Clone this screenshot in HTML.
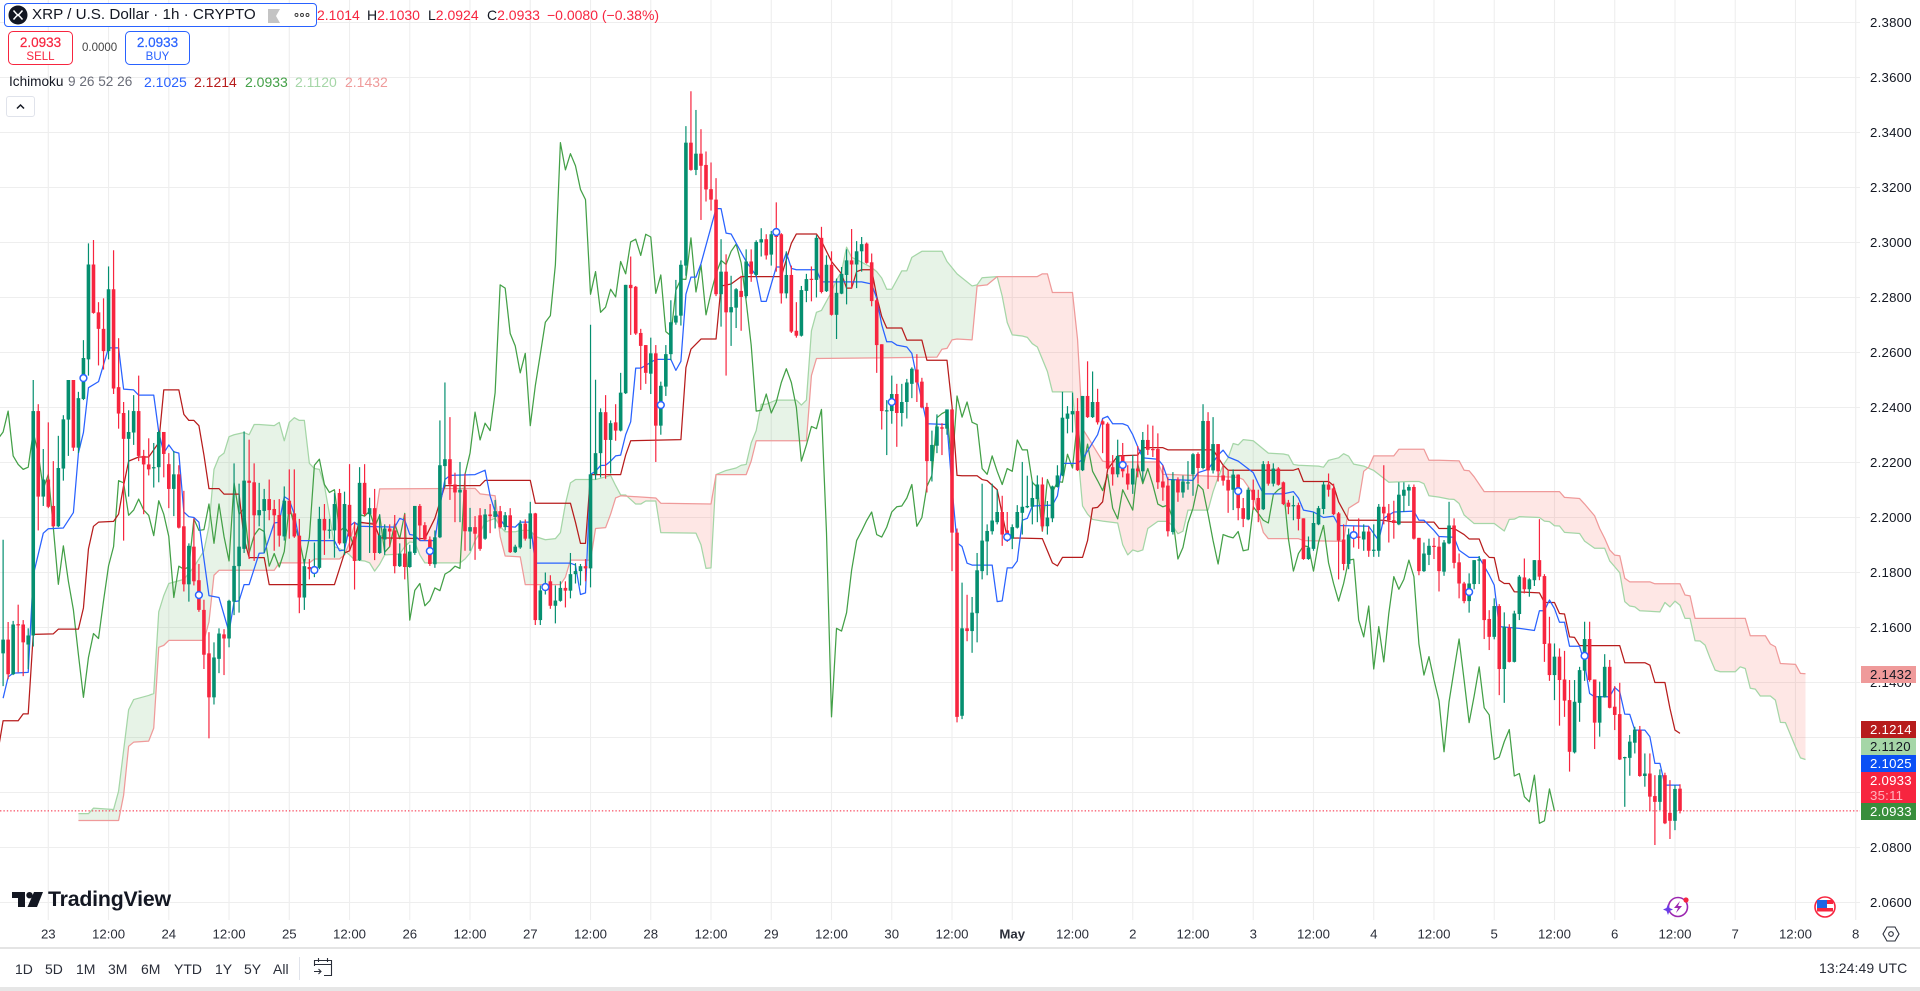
<!DOCTYPE html>
<html lang="en">
<head>
<meta charset="utf-8">
<title>XRP / U.S. Dollar 1h Ichimoku chart</title>
<style>
html,body{margin:0;padding:0;background:#fff;width:1920px;height:991px;overflow:hidden;font-family:"Liberation Sans",sans-serif;color:#131722}
#stage{position:relative;width:1920px;height:991px;overflow:hidden}
#chart{position:absolute;left:0;top:0}
.t{position:absolute;white-space:nowrap;line-height:1}
.box{position:absolute;box-sizing:border-box;background:#fff}
.range{position:absolute;top:962px;font-size:14px;line-height:14px;color:#2a2e39}
.badge{position:absolute;left:1861px;width:55px;box-sizing:border-box;padding-left:9px;font-size:13.2px;letter-spacing:.25px;line-height:17px}
</style>
</head>
<body>
<div id="stage">
<svg id="chart" width="1920" height="991" viewBox="0 0 1920 991" xmlns="http://www.w3.org/2000/svg"></svg>

<div class="box" style="left:4px;top:3px;width:313px;height:24px;border:1.3px solid #2962ff;border-radius:4px"></div>
<svg style="position:absolute;left:8px;top:5px" width="20" height="20" viewBox="0 0 20 20"><circle cx="10" cy="10" r="9.5" fill="#131722"/><path d="M5.5 5.5L8.6 9a2 2 0 0 0 2.8 0l3.1-3.5M5.5 14.5L8.6 11a2 2 0 0 1 2.8 0l3.1 3.5" fill="none" stroke="#fff" stroke-width="1.5"/></svg>
<div class="t" style="left:32px;top:7px;font-size:15.2px;color:#131722">XRP / U.S. Dollar · 1h · CRYPTO</div>
<svg style="position:absolute;left:267px;top:9px" width="14" height="14" viewBox="0 0 14 14"><path d="M1 0H13L9 7L13 14H1Z" fill="#c4c4c4"/></svg>
<svg style="position:absolute;left:294px;top:12px" width="16" height="6" viewBox="0 0 16 6"><circle cx="2.5" cy="3" r="1.5" fill="none" stroke="#333" stroke-width=".9"/><circle cx="8" cy="3" r="1.5" fill="none" stroke="#333" stroke-width=".9"/><circle cx="13.5" cy="3" r="1.5" fill="none" stroke="#333" stroke-width=".9"/></svg>

<div class="t" style="left:317px;top:8px;font-size:14px;color:#f7253f">2.1014</div>
<div class="t" style="left:367px;top:8px;font-size:14px;color:#f7253f"><span style="color:#131722">H</span>2.1030</div>
<div class="t" style="left:428px;top:8px;font-size:14px;color:#f7253f"><span style="color:#131722">L</span>2.0924</div>
<div class="t" style="left:487px;top:8px;font-size:14px;color:#f7253f"><span style="color:#131722">C</span>2.0933</div>
<div class="t" style="left:547px;top:8px;font-size:14px;color:#f7253f">−0.0080 (−0.38%)</div>

<div class="box" style="left:8px;top:31px;width:65px;height:34px;border:1.2px solid #f7253f;border-radius:5px;text-align:center;color:#f7253f">
<div style="font-size:13.5px;line-height:14px;margin-top:4px;-webkit-text-stroke:.2px #f7253f">2.0933</div><div style="font-size:11.5px;line-height:13px;margin-top:1px">SELL</div></div>
<div class="t" style="left:82px;top:43px;font-size:11.5px;color:#444">0.0000</div>
<div class="box" style="left:125px;top:31px;width:65px;height:34px;border:1.2px solid #2962ff;border-radius:5px;text-align:center;color:#2962ff">
<div style="font-size:13.5px;line-height:14px;margin-top:4px;-webkit-text-stroke:.2px #2962ff">2.0933</div><div style="font-size:11.5px;line-height:13px;margin-top:1px">BUY</div></div>

<div class="t" style="left:9px;top:75px;font-size:13.6px;color:#131722">Ichimoku</div>
<div class="t" style="left:68px;top:75px;font-size:13.6px;color:#6a6d78">9 26 52 26</div>
<div class="t" style="left:144px;top:75px;font-size:14px;color:#2962ff">2.1025</div>
<div class="t" style="left:194px;top:75px;font-size:14px;color:#b71c1c">2.1214</div>
<div class="t" style="left:245px;top:75px;font-size:14px;color:#43a047">2.0933</div>
<div class="t" style="left:295px;top:75px;font-size:14px;color:#a5d6a7">2.1120</div>
<div class="t" style="left:345px;top:75px;font-size:14px;color:#ef9a9a">2.1432</div>
<div class="box" style="left:6px;top:96px;width:29px;height:21px;border:1px solid #e0e3eb;border-radius:3px">
<svg width="27" height="19" viewBox="0 0 27 19"><path d="M10 11.5L13.5 8L17 11.5" fill="none" stroke="#131722" stroke-width="1.5"/></svg></div>

<svg style="position:absolute;left:12px;top:892px" width="31" height="16" viewBox="0 0 31 16"><path d="M0 0H13V15H6V6H0Z" fill="#131722"/><circle cx="17.5" cy="3.2" r="3.2" fill="#131722"/><path d="M22 0H31L25 15H15.5Z" fill="#131722"/></svg>
<div class="t" style="left:48px;top:889px;font-size:21.3px;font-weight:700;letter-spacing:-.2px;color:#131722">TradingView</div>

<svg style="position:absolute;left:1663px;top:895px" width="28" height="24" viewBox="0 0 28 24"><circle cx="15" cy="12" r="9.5" fill="#fff" stroke="#9c27b0" stroke-width="1.6"/><path d="M17 6L11 13H15L13 18L19 11H15Z" fill="#9c27b0"/><path d="M5 9L6.5 13L10 14.5L6.5 16L5 20L3.5 16L0 14.5L3.5 13Z" fill="#6a3de8"/><circle cx="23" cy="5" r="2.6" fill="#f7253f"/></svg>
<svg style="position:absolute;left:1814px;top:896px" width="22" height="22" viewBox="0 0 22 22"><circle cx="11" cy="11" r="10" fill="#fff" stroke="#f7253f" stroke-width="1.6"/><rect x="3" y="4" width="16" height="4" fill="#f7253f"/><rect x="3" y="12" width="16" height="3.5" fill="#f7253f"/><rect x="3" y="4" width="10" height="8" fill="#1e66e6"/></svg>
<svg style="position:absolute;left:1882px;top:926px" width="18" height="16" viewBox="0 0 18 16"><path d="M5 1H13L17 8L13 15H5L1 8Z" fill="none" stroke="#2a2e39" stroke-width="1.1"/><circle cx="9" cy="8" r="2.3" fill="none" stroke="#2a2e39" stroke-width="1.1"/></svg>

<div class="box" style="left:0;top:947px;width:1920px;height:2px;background:#e4e4e4"></div>
<div class="box" style="left:0;top:987px;width:1920px;height:4px;background:#e6e6e6"></div>
<div class="range" style="left:15px">1D</div>
<div class="range" style="left:45px">5D</div>
<div class="range" style="left:76px">1M</div>
<div class="range" style="left:108px">3M</div>
<div class="range" style="left:141px">6M</div>
<div class="range" style="left:174px">YTD</div>
<div class="range" style="left:215px">1Y</div>
<div class="range" style="left:244px">5Y</div>
<div class="range" style="left:273px">All</div>
<div class="box" style="left:299px;top:957px;width:1px;height:23px;background:#e0e3eb"></div>
<svg style="position:absolute;left:313px;top:957px" width="20" height="20" viewBox="0 0 20 20"><path d="M1.5 9V3.5H18.5V18.5H11M1.5 7.5H18.5M5.5 1V5M14.5 1V5M1 14.5H8M5.5 12L8 14.5L5.5 17" fill="none" stroke="#2a2e39" stroke-width="1.1"/></svg>
<div class="t" style="left:1819px;top:961px;font-size:14px;letter-spacing:.1px;color:#2a2e39">13:24:49 UTC</div>

<div class="badge" style="top:666px;height:17px;background:#ef9a9a;color:#131722">2.1432</div>
<div class="badge" style="top:721px;height:17px;background:#b71c1c;color:#fff">2.1214</div>
<div class="badge" style="top:738px;height:17px;background:#a5d6a7;color:#131722">2.1120</div>
<div class="badge" style="top:755px;height:17px;background:#0a50f5;color:#fff">2.1025</div>
<div class="badge" style="top:772px;height:31px;background:#f7253f;color:#fff;line-height:15px;padding-top:1px">2.0933<br><span style="color:#ffb3bd">35:11</span></div>
<div class="badge" style="top:803px;height:17px;background:#388e3c;color:#fff">2.0933</div>
</div>

<script>
const firstBar = -9;
const opens = [
2.1506,2.1556,2.1430,2.1612,2.1611,2.1538,2.1571,2.2387,2.2076,2.2138,
2.2042,2.1968,2.2178,2.2356,2.2500,2.2254,2.2431,2.2575,2.2920,2.2746,
2.2686,2.2605,2.2830,2.2474,2.2380,2.2286,2.2309,2.2387,2.2224,2.2193,
2.2180,2.2183,2.2311,2.2194,2.2104,2.2157,2.1968,2.1757,2.1894,2.1772,
2.1664,2.1506,2.1346,2.1486,2.1575,2.1560,2.1694,2.1823,2.1886,2.2134,
2.2128,2.2008,2.2024,2.2067,2.2031,2.2009,2.1931,2.2061,2.2015,2.1934,
2.1709,2.1820,2.1802,2.1817,2.1995,2.1953,2.1953,2.2089,2.1906,2.2046,
2.1931,2.1845,2.2126,2.2012,2.2034,2.1871,2.1920,2.1960,2.1953,2.1823,
2.1869,2.1820,2.1871,2.2042,2.1972,2.1920,2.1830,2.1928,2.2187,2.2212,
2.2120,2.2091,2.2101,2.1949,2.1965,
2.2008,2.1923,2.2011,2.2002,2.2023,2.1965,2.2008,2.1874,2.1891,2.1978,
2.1923,2.2015,2.1627,2.1738,2.1768,2.1679,2.1697,2.1744,2.1734,2.1794,
2.1805,2.1823,2.1815,2.2157,2.2234,2.2383,2.2282,2.2346,2.2316,2.2452,
2.2846,2.2839,2.2671,2.2627,2.2523,2.2597,2.2334,2.2476,2.2594,2.2709,
2.2734,2.2916,2.3363,2.3264,2.3323,2.3282,2.3194,2.3156,2.2812,2.2894,
2.2746,2.2763,2.2824,2.2805,2.2931,2.2882,2.3000,2.3012,2.2956,2.3042,
2.3030,2.2815,2.2882,2.2679,2.2661,2.2824,2.2868,2.2864,2.3017,2.2823,
2.2919,2.2737,2.2814,2.2882,2.2935,2.2920,2.2968,2.2996,2.2928,2.2790,
2.2630,2.2387,2.2387,2.2449,2.2380,2.2420,2.2486,2.2538,2.2494,2.2402,
2.2205,2.2261,2.2328,2.2323,2.2393,2.1945,
2.1279,2.1597,2.1587,2.1652,2.1805,2.1913,2.1950,2.1983,2.2020,2.1953,
2.1923,2.1963,2.2017,2.2037,2.2039,2.2067,2.2120,2.1968,2.1997,2.2111,
2.2153,2.2359,2.2375,2.2387,2.2172,2.2442,2.2365,2.2420,2.2350,2.2341,
2.2183,2.2157,2.2224,2.2160,2.2120,2.2178,2.2168,2.2282,2.2249,2.2249,
2.2131,2.2116,2.1947,2.2138,2.2091,2.2128,2.2157,2.2231,2.2180,2.2351,
2.2171,2.2267,2.2153,2.2137,2.2101,2.2156,2.2034,2.1993,2.2101,2.2071,
2.2030,2.2194,2.2123,2.2178,2.2128,2.2054,2.2042,2.2045,2.1997,2.1849,
2.1886,2.1975,2.2031,2.2120,2.2106,2.2015,2.1920,2.1831,2.1938,2.1931,
2.1920,2.1949,2.1880,2.1879,2.2039,2.2015,2.1990,2.1975,2.2079,2.2098,
2.2111,2.1926,2.1805,2.1864,2.1897,2.1894,
2.1803,2.1906,2.1971,2.1837,2.1760,2.1696,2.1758,2.1843,2.1848,2.1631,
2.1566,2.1678,2.1449,2.1600,2.1475,2.1649,2.1782,2.1739,2.1772,2.1845,
2.1787,2.1542,2.1427,2.1494,2.1411,2.1336,2.1146,2.1326,2.1443,2.1558,
2.1411,2.1254,2.1346,2.1457,2.1312,2.1285,2.1126,2.1126,2.1181,2.1227,
2.1060,2.1069,2.0987,2.0966,2.1063,2.0926,2.0897,2.1014];
const highs = [
2.1919,2.1620,2.1624,2.1683,2.1627,2.1597,2.2500,2.2412,2.2249,2.2346,
2.2205,2.2297,2.2372,2.2500,2.2500,2.2457,2.2645,2.2997,2.3009,2.2783,
2.2797,2.2913,2.2972,2.2652,2.2420,2.2390,2.2445,2.2516,2.2246,2.2288,
2.2271,2.2316,2.2311,2.2234,2.2242,2.2190,2.2097,2.1906,2.1997,2.1831,
2.1701,2.1583,2.1546,2.1597,2.1594,2.1701,2.2197,2.2123,2.2313,2.2283,
2.2197,2.2126,2.2104,2.2138,2.2064,2.2067,2.2113,2.2175,2.2175,2.1995,
2.1849,2.1849,2.1909,2.2039,2.2049,2.1995,2.2089,2.2104,2.2094,2.2194,
2.1983,2.2183,2.2194,2.2072,2.2104,2.2012,2.1975,2.1975,2.2009,2.1906,
2.2012,2.1901,2.2042,2.2049,2.1983,2.1931,2.1953,2.2353,2.2491,2.2365,
2.2163,2.2202,2.2160,2.2035,2.2005,
2.2034,2.2031,2.2049,2.2064,2.2042,2.2020,2.2034,2.1901,2.1990,2.1993,
2.2057,2.2017,2.1753,2.1800,2.1790,2.1753,2.1768,2.1768,2.1871,2.1834,
2.1831,2.1849,2.2701,2.2501,2.2397,2.2445,2.2353,2.2412,2.2526,2.2846,
2.2949,2.2842,2.2686,2.2627,2.2654,2.2627,2.2494,2.2627,2.2790,2.2864,
2.2935,2.3423,2.3550,2.3482,2.3412,2.3331,2.3291,2.3234,2.3012,2.2957,
2.2879,2.2834,2.2879,2.2975,2.2975,2.3008,2.3052,2.3030,2.3042,2.3146,
2.3034,2.2968,2.2916,2.2783,2.2842,2.2886,2.2913,2.3027,2.3057,2.2953,
2.2968,2.2869,2.2911,2.2975,2.3049,2.3005,2.3020,2.3000,2.2960,2.2797,
2.2630,2.2427,2.2516,2.2486,2.2486,2.2504,2.2546,2.2594,2.2508,2.2417,
2.2316,2.2375,2.2343,2.2393,2.2393,2.1960,
2.1763,2.1719,2.1711,2.1871,2.2123,2.1975,2.2123,2.2101,2.2079,2.2020,
2.1975,2.2045,2.2202,2.2152,2.2131,2.2153,2.2146,2.2060,2.2116,2.2190,
2.2457,2.2405,2.2454,2.2434,2.2442,2.2568,2.2531,2.2468,2.2357,2.2346,
2.2227,2.2283,2.2271,2.2190,2.2227,2.2260,2.2311,2.2338,2.2334,2.2306,
2.2190,2.2146,2.2165,2.2146,2.2153,2.2205,2.2234,2.2237,2.2412,2.2383,
2.2365,2.2267,2.2190,2.2175,2.2175,2.2157,2.2071,2.2109,2.2138,2.2101,
2.2205,2.2205,2.2197,2.2183,2.2131,2.2064,2.2079,2.2054,2.1997,2.1931,
2.2020,2.2042,2.2131,2.2160,2.2123,2.2020,2.1975,2.1960,2.1968,2.1997,
2.1975,2.1968,2.1975,2.2049,2.2190,2.2049,2.2061,2.2128,2.2128,2.2120,
2.2120,2.1926,2.1909,2.1923,2.1926,2.1931,
2.1918,2.2057,2.1997,2.1869,2.1766,2.1797,2.1845,2.1860,2.1848,2.1663,
2.1706,2.1685,2.1655,2.1612,2.1661,2.1791,2.1851,2.1779,2.1845,2.1994,
2.1794,2.1639,2.1542,2.1524,2.1515,2.1409,2.1409,2.1457,2.1621,2.1621,
2.1411,2.1403,2.1503,2.1482,2.1387,2.1399,2.1130,2.1209,2.1239,2.1242,
2.1142,2.1142,2.1063,2.1084,2.1072,2.1045,2.1027,2.1030];
const lows = [
2.1387,2.1412,2.1427,2.1437,2.1423,2.1449,2.1531,2.1953,2.2042,2.2034,
2.1965,2.1965,2.2134,2.2224,2.2242,2.2234,2.2427,2.2516,2.2741,2.2553,
2.2538,2.2575,2.2449,2.2323,2.1916,2.2076,2.2264,2.2205,2.2012,2.2153,
2.2109,2.2128,2.2146,2.2034,2.2005,2.1960,2.1731,2.1694,2.1753,2.1657,
2.1449,2.1197,2.1320,2.1434,2.1427,2.1528,2.1645,2.1654,2.1871,2.1849,
2.1842,2.1968,2.1871,2.1990,2.1879,2.1894,2.1916,2.1923,2.1926,2.1652,
2.1664,2.1775,2.1783,2.1812,2.1864,2.1923,2.1854,2.1901,2.1864,2.1879,
2.1738,2.1842,2.2005,2.1871,2.1845,2.1868,2.1864,2.1894,2.1797,2.1820,
2.1775,2.1817,2.1864,2.1916,2.1916,2.1824,2.1817,2.1925,2.2109,2.2064,
2.1983,2.1983,2.1879,2.1879,2.1846,
2.1879,2.1919,2.1943,2.1960,2.1960,2.1953,2.1871,2.1871,2.1886,2.1916,
2.1886,2.1609,2.1609,2.1720,2.1668,2.1615,2.1694,2.1673,2.1706,2.1760,
2.1753,2.1768,2.1746,2.2138,2.2146,2.2141,2.2160,2.2279,2.2313,2.2449,
2.2664,2.2664,2.2464,2.2486,2.2449,2.2202,2.2301,2.2442,2.2572,2.2701,
2.2698,2.2879,2.3261,2.3245,2.3082,2.3149,2.3116,2.2805,2.2694,2.2516,
2.2624,2.2689,2.2679,2.2797,2.2857,2.2876,2.2949,2.2938,2.2916,2.2894,
2.2778,2.2797,2.2671,2.2654,2.2658,2.2783,2.2786,2.2800,2.2815,2.2820,
2.2734,2.2649,2.2812,2.2775,2.2834,2.2834,2.2894,2.2923,2.2768,2.2526,
2.2320,2.2227,2.2341,2.2257,2.2331,2.2360,2.2434,2.2420,2.2397,2.2091,
2.2131,2.2234,2.2227,2.2301,2.1805,2.1255,
2.1267,2.1550,2.1508,2.1546,2.1775,2.1790,2.1938,2.1975,2.1897,2.1911,
2.1885,2.1960,2.1938,2.2034,2.1975,2.1983,2.1950,2.1938,2.1983,2.2109,
2.2150,2.2306,2.2309,2.2169,2.2169,2.2362,2.2362,2.2338,2.2234,2.2175,
2.2116,2.2146,2.2146,2.2101,2.2086,2.2146,2.2131,2.2227,2.2220,2.2104,
2.2061,2.1931,2.1938,2.2057,2.2072,2.2101,2.2079,2.2123,2.2175,2.2104,
2.2160,2.2131,2.2116,2.2017,2.2027,2.1990,2.1965,2.1990,2.2027,2.1983,
2.2027,2.2116,2.2113,2.2116,2.2045,2.2012,2.1990,2.1953,2.1846,2.1846,
2.1879,2.1972,2.2012,2.2076,2.2009,2.1775,2.1808,2.1812,2.1891,2.1886,
2.1879,2.1857,2.1857,2.1857,2.1975,2.1909,2.1923,2.1972,2.2020,2.2042,
2.1920,2.1790,2.1802,2.1827,2.1849,2.1731,
2.1788,2.1903,2.1815,2.1706,2.1688,2.1654,2.1739,2.1758,2.1558,2.1518,
2.1557,2.1354,2.1326,2.1473,2.1473,2.1627,2.1724,2.1712,2.1751,2.1772,
2.1475,2.1406,2.1336,2.1243,2.1275,2.1076,2.1142,2.1257,2.1406,2.1403,
2.1158,2.1203,2.1345,2.1306,2.1227,2.1118,2.0948,2.1061,2.1142,2.1057,
2.1021,2.0932,2.0809,2.0936,2.0885,2.0831,2.0863,2.0924];
const closes = [
2.1556,2.1430,2.1611,2.1609,2.1546,2.1571,2.2387,2.2076,2.2138,2.2039,
2.1968,2.2180,2.2357,2.2500,2.2254,2.2434,2.2580,2.2920,2.2744,2.2686,
2.2605,2.2830,2.2469,2.2378,2.2286,2.2311,2.2387,2.2224,2.2193,2.2175,
2.2183,2.2311,2.2231,2.2104,2.2157,2.1963,2.1757,2.1897,2.1768,2.1664,
2.1501,2.1346,2.1491,2.1578,2.1560,2.1697,2.1824,2.1894,2.2134,2.2126,
2.2008,2.2027,2.2067,2.2027,2.2008,2.1934,2.2061,2.2012,2.1931,2.1709,
2.1823,2.1812,2.1820,2.1995,2.1953,2.1956,2.2049,2.1906,2.2049,2.1931,
2.1842,2.2126,2.2012,2.2034,2.1871,2.1935,2.1960,2.1949,2.1823,2.1869,
2.1820,2.1876,2.2042,2.1971,2.1920,2.1831,2.1928,2.2190,2.2212,2.2120,
2.2091,2.2101,2.1950,2.1965,2.1941,
2.1886,2.2011,2.2005,2.2023,2.1965,2.2008,2.1874,2.1894,2.1978,2.1923,
2.2015,2.1627,2.1735,2.1760,2.1679,2.1698,2.1744,2.1734,2.1794,2.1805,
2.1823,2.1815,2.2157,2.2234,2.2383,2.2282,2.2343,2.2316,2.2454,2.2846,
2.2834,2.2669,2.2624,2.2526,2.2597,2.2334,2.2479,2.2594,2.2710,2.2734,
2.2919,2.3363,2.3264,2.3323,2.3279,2.3193,2.3156,2.2812,2.2894,2.2746,
2.2765,2.2830,2.2802,2.2931,2.2886,2.3002,2.3012,2.2953,2.3030,2.3020,
2.2815,2.2882,2.2676,2.2661,2.2827,2.2867,2.2866,2.3017,2.2820,2.2919,
2.2737,2.2817,2.2886,2.2935,2.2920,2.2968,2.2994,2.2926,2.2787,2.2627,
2.2387,2.2390,2.2449,2.2380,2.2420,2.2491,2.2541,2.2491,2.2400,2.2205,
2.2264,2.2331,2.2323,2.2393,2.1945,2.1275,
2.1597,2.1587,2.1654,2.1808,2.1916,2.1951,2.1989,2.2020,2.1938,2.1929,
2.1965,2.2020,2.2039,2.2042,2.2071,2.2120,2.1968,2.2000,2.2113,2.2153,
2.2363,2.2378,2.2387,2.2172,2.2442,2.2365,2.2420,2.2346,2.2338,2.2178,
2.2157,2.2224,2.2168,2.2120,2.2178,2.2168,2.2282,2.2246,2.2246,2.2128,
2.2109,2.1950,2.2138,2.2091,2.2131,2.2128,2.2230,2.2180,2.2351,2.2171,
2.2267,2.2168,2.2134,2.2098,2.2156,2.2034,2.1995,2.2101,2.2064,2.2027,
2.2194,2.2123,2.2178,2.2119,2.2049,2.2039,2.2045,2.1995,2.1849,2.1891,
2.1980,2.2034,2.2120,2.2101,2.2012,2.1916,2.1831,2.1938,2.1931,2.1926,
2.1949,2.1879,2.1883,2.2039,2.2015,2.1990,2.1980,2.2083,2.2101,2.2111,
2.1923,2.1805,2.1869,2.1897,2.1894,2.1805,
2.1909,2.1971,2.1835,2.1760,2.1696,2.1760,2.1845,2.1848,2.1627,2.1566,
2.1678,2.1449,2.1603,2.1475,2.1651,2.1785,2.1739,2.1775,2.1845,2.1785,
2.1540,2.1427,2.1494,2.1409,2.1334,2.1148,2.1330,2.1445,2.1558,2.1409,
2.1254,2.1351,2.1457,2.1308,2.1282,2.1120,2.1129,2.1185,2.1229,2.1060,
2.1069,2.0985,2.0966,2.1063,2.0888,2.0897,2.1013,2.0933];

const tenkanBars = [-9,-8,-7,-4,-3,-1,0,3,5,6,7,8,10,12,14,15,17,18,21,22,23,24,25,26,27,28,29,30,31,32,34,36,37,38,39,40,42,43,45,46,47,48,49,50,57,58,59,60,61,62,69,70,71,72,73,74,77,78,79,80,85,
87,88,89,91,93,94,96,97,104,105,106,107,108,109,110,111,112,113,114,115,116,117,118,119,121,124,125,126,127,128,129,130,133,134,135,136,139,141,142,143,145,146,147,148,149,153,154,162,164,165,166,167,168,169,171,172,173,175,179,180,181,
182,183,184,188,189,190,191,192,193,194,195,196,200,201,202,205,206,209,210,211,212,214,215,216,217,218,221,222,223,228,229,231,233,234,235,237,240,241,242,246,248,249,250,252,254,256,257,263,265,266,268,272,273,274,276,277,
280,281,283,285,287,288,289,293,296,297,298,299,300,301,302,303,305,306,307,308,311,312,313,314,315,316,318,319,320,321,322,325];
const tenkanPrices = [2.1343,2.1420,2.1434,2.1437,2.1790,2.1943,2.1959,2.1962,2.2018,2.2234,2.2309,2.2472,2.2494,2.2617,2.2617,2.2467,2.2464,2.2445,2.2445,2.2311,2.2234,2.2264,2.2239,2.2234,2.2020,2.2003,2.2000,2.1983,2.1849,2.1716,2.1709,2.1583,2.1694,2.1697,2.1756,2.1756,2.1870,2.1871,2.1980,2.1983,2.2076,2.2064,2.2012,2.1916,2.1916,2.1879,2.1882,2.1968,2.1983,2.1968,2.1965,2.1997,2.1990,2.1938,2.1935,2.1916,2.1916,2.2042,2.2138,2.2153,2.2156,
2.2172,2.2079,2.2020,2.1968,2.1965,2.1983,2.1983,2.1834,2.1834,2.1827,2.1720,2.1726,2.2157,2.2168,2.2189,2.2190,2.2205,2.2224,2.2227,2.2301,2.2348,2.2543,2.2543,2.2553,2.2575,2.2575,2.2535,2.2568,2.2812,2.2874,2.2874,2.2923,2.3123,2.3123,2.3034,2.3031,2.2931,2.2879,2.2786,2.2786,2.2911,2.2911,2.2963,2.2906,2.2901,2.2901,2.2857,2.2857,2.2849,2.2797,2.2701,2.2639,2.2639,2.2627,2.2620,2.2597,2.2508,2.2341,2.2338,2.2108,2.1908,
2.1894,2.1834,2.1827,2.1827,2.1694,2.1697,2.1817,2.1817,2.1842,2.1990,2.1997,2.2042,2.2045,2.2079,2.2197,2.2197,2.2212,2.2301,2.2360,2.2368,2.2341,2.2341,2.2334,2.2301,2.2257,2.2217,2.2212,2.2190,2.2138,2.2135,2.2163,2.2175,2.2227,2.2245,2.2220,2.2205,2.2163,2.2123,2.2086,2.2086,2.2094,2.2071,2.2027,2.2020,2.2000,2.2005,2.1971,2.1968,2.1916,2.1997,2.2020,2.2023,2.1990,2.1990,2.1953,2.1931,
2.1928,2.1881,2.1855,2.1855,2.1791,2.1754,2.1603,2.1597,2.1589,2.1661,2.1661,2.1700,2.1669,2.1619,2.1619,2.1532,2.1532,2.1469,2.1360,2.1348,2.1348,2.1382,2.1366,2.1285,2.1284,2.1227,2.1227,2.1203,2.1106,2.1106,2.1027,2.1027];

const kijunBars = [-10,-9,-6,-5,-4,-3,1,2,6,7,8,9,10,13,14,15,16,18,20,22,23,26,27,28,29,30,31,32,34,35,38,39,40,43,44,57,59,60,62,65,66,75,77,79,86,
87,96,97,104,105,106,107,108,114,115,116,126,127,128,130,133,134,136,138,146,147,148,149,153,154,156,158,159,160,161,162,164,165,166,167,170,171,174,175,179,180,181,
182,185,186,187,189,190,191,198,199,200,201,202,206,207,208,209,210,211,213,217,218,222,223,232,234,235,248,249,250,255,256,257,259,266,268,276,277,
280,282,283,285,286,287,288,289,290,291,292,297,298,300,301,302,303,304,305,313,314,318,319,320,322,323,324,325];
const kijunPrices = [2.1153,2.1261,2.1261,2.1286,2.1286,2.1575,2.1577,2.1594,2.1594,2.1671,2.1886,2.1968,2.1983,2.1986,2.2012,2.2116,2.2205,2.2220,2.2220,2.2272,2.2464,2.2464,2.2375,2.2353,2.2353,2.2334,2.2227,2.2105,2.2105,2.2085,2.2085,2.1923,2.1854,2.1854,2.1756,2.1756,2.1871,2.1879,2.1983,2.1975,2.1926,2.1923,2.1997,2.2116,2.2116,
2.2135,2.2135,2.2052,2.2052,2.1983,2.1906,2.1906,2.2156,2.2156,2.2227,2.2279,2.2283,2.2545,2.2612,2.2649,2.2649,2.2842,2.2849,2.2876,2.2876,2.2938,2.2997,2.3031,2.3031,2.3005,2.2931,2.2886,2.2834,2.2834,2.2894,2.2901,2.2901,2.2805,2.2731,2.2689,2.2689,2.2645,2.2645,2.2572,2.2572,2.2405,2.2153,
2.2152,2.2152,2.2138,2.2134,2.2101,2.2012,2.1926,2.1923,2.1879,2.1835,2.1824,2.1855,2.1855,2.1916,2.2034,2.2037,2.2057,2.2175,2.2224,2.2227,2.2254,2.2254,2.2246,2.2246,2.2190,2.2172,2.2172,2.2178,2.2131,2.2131,2.2116,2.2057,2.1990,2.1990,2.1983,2.1983,2.1960,
2.1960,2.1938,2.1922,2.1922,2.1875,2.1855,2.1854,2.1772,2.1760,2.1760,2.1730,2.1726,2.1691,2.1691,2.1651,2.1649,2.1566,2.1564,2.1534,2.1534,2.1472,2.1472,2.1463,2.1400,2.1400,2.1306,2.1227,2.1215];

const spanABars = [6,8,9,13,14,15,16,17,20,21,22,23,24,27,29,31,32,33,34,35,36,37,39,40,41,42,45,46,47,48,49,50,51,52,53,54,55,56,57,59,60,61,63,64,65,66,67,70,71,72,73,74,75,82,83,84,85,86,
87,89,90,91,93,94,96,97,99,101,102,103,104,105,109,112,113,114,115,117,118,119,121,122,129,130,131,132,133,135,137,138,139,140,141,142,143,145,149,150,151,152,153,154,156,157,158,159,160,161,164,165,166,167,168,170,171,172,174,178,179,181,
184,185,186,189,190,191,192,194,195,196,197,199,200,204,206,207,208,210,213,214,215,216,217,218,219,221,223,224,225,226,227,231,232,233,234,235,236,237,238,240,241,243,246,247,248,249,253,254,255,257,258,259,260,262,264,265,267,271,273,274,275,277,
279,280,281,282,284,288,290,291,292,293,297,298,299,300,301,302,305,306,308,310,311,312,313,314,315,316,317,321,322,323,324,325,326,327,328,329,330,331,332,333,336,337,338,339,340,341,343,344,345,346,348,349,350];
const spanAPrices = [2.0923,2.0923,2.0943,2.0938,2.1005,2.1153,2.1301,2.1338,2.1353,2.1360,2.1657,2.1716,2.1760,2.1775,2.1820,2.1879,2.1968,2.2175,2.2220,2.2234,2.2294,2.2301,2.2309,2.2301,2.2338,2.2338,2.2334,2.2346,2.2279,2.2346,2.2363,2.2353,2.2353,2.2197,2.2178,2.2175,2.2116,2.2012,2.1894,2.1879,2.1864,2.1846,2.1842,2.1835,2.1805,2.1830,2.1864,2.1867,2.1894,2.1911,2.1909,2.1864,2.1835,2.1835,2.1849,2.1871,2.1916,2.1945,
2.1983,2.1997,2.1968,2.1948,2.1948,2.1953,2.1953,2.1931,2.1919,2.1923,2.1945,2.2049,2.2126,2.2138,2.2138,2.2153,2.2116,2.2082,2.2082,2.2049,2.2049,2.2060,2.2060,2.1945,2.1943,2.1901,2.1815,2.1817,2.2156,2.2171,2.2180,2.2190,2.2193,2.2271,2.2316,2.2412,2.2412,2.2427,2.2427,2.2409,2.2427,2.2679,2.2746,2.2753,2.2820,2.2864,2.2894,2.2983,2.2946,2.2938,2.2909,2.2894,2.2871,2.2830,2.2830,2.2897,2.2897,2.2946,2.2968,2.2968,2.2931,2.2886,
2.2842,2.2846,2.2872,2.2876,2.2805,2.2709,2.2664,2.2660,2.2655,2.2632,2.2620,2.2531,2.2457,2.2457,2.2042,2.2012,2.1993,2.1987,2.1980,2.1901,2.1864,2.1882,2.1876,2.1882,2.1960,2.1986,2.1986,2.1968,2.1941,2.1950,2.2027,2.2027,2.2094,2.2146,2.2190,2.2217,2.2269,2.2264,2.2283,2.2279,2.2264,2.2234,2.2231,2.2227,2.2193,2.2190,2.2187,2.2183,2.2208,2.2217,2.2232,2.2223,2.2194,2.2187,2.2171,2.2157,2.2128,2.2131,2.2131,2.2123,2.2079,2.2074,
2.2067,2.2066,2.2051,2.2009,2.1978,2.1978,2.1951,2.1993,2.1994,2.2003,2.2000,2.1987,2.1985,2.1970,2.1969,2.1946,2.1942,2.1914,2.1888,2.1888,2.1842,2.1821,2.1799,2.1694,2.1678,2.1675,2.1661,2.1657,2.1691,2.1675,2.1696,2.1681,2.1633,2.1633,2.1552,2.1551,2.1536,2.1488,2.1445,2.1439,2.1439,2.1457,2.1451,2.1379,2.1376,2.1351,2.1351,2.1336,2.1255,2.1254,2.1166,2.1126,2.1120];

const spanBBars = [6,14,15,16,17,20,21,22,23,24,31,32,33,34,45,46,52,53,58,59,60,61,62,65,66,85,86,
89,90,91,94,95,102,103,104,108,109,111,112,113,114,121,122,132,133,139,140,141,151,152,153,177,178,179,180,181,
184,185,187,189,197,198,199,200,204,205,206,207,209,210,211,221,222,223,237,238,240,241,242,243,249,250,258,259,261,262,263,264,268,269,274,275,277,
281,282,283,284,286,301,302,305,306,308,309,310,311,312,313,314,315,319,320,325,326,327,328,338,339,342,343,344,345,348,349,350];
const spanBPrices = [2.0898,2.0898,2.0990,2.1168,2.1183,2.1187,2.1234,2.1528,2.1535,2.1553,2.1553,2.1620,2.1790,2.1808,2.1808,2.1835,2.1835,2.1849,2.1849,2.1864,2.1909,2.1975,2.1980,2.1980,2.2104,2.2106,2.2086,
2.2079,2.1931,2.1860,2.1857,2.1756,2.1756,2.1783,2.1845,2.1845,2.1960,2.1963,2.2012,2.2071,2.2079,2.2071,2.2052,2.2049,2.2156,2.2156,2.2205,2.2279,2.2279,2.2516,2.2578,2.2583,2.2612,2.2615,2.2646,2.2649,
2.2646,2.2842,2.2846,2.2876,2.2876,2.2886,2.2886,2.2818,2.2818,2.2649,2.2323,2.2294,2.2234,2.2205,2.2202,2.2202,2.2157,2.2157,2.2146,2.2138,2.2086,2.2012,2.1946,2.1923,2.1923,2.1916,2.1913,2.2034,2.2057,2.2168,2.2183,2.2224,2.2224,2.2248,2.2248,2.2208,2.2208,
2.2206,2.2172,2.2170,2.2148,2.2094,2.2094,2.2073,2.2069,2.2049,2.2006,2.1960,2.1924,2.1882,2.1863,2.1861,2.1779,2.1766,2.1766,2.1759,2.1759,2.1718,2.1715,2.1633,2.1633,2.1570,2.1570,2.1540,2.1530,2.1469,2.1466,2.1433,2.1432];

const markerBars = [7,30,53,76,99,122,145,168,191,214,237,260,283,306];
const markerPrices = [2.2507,2.1718,2.1809,2.1878,2.1747,2.2409,2.3038,2.2420,2.1929,2.2191,2.2096,2.1936,2.1729,2.1497];
const priceTicks = [2.06,2.08,2.10,2.12,2.14,2.16,2.18,2.20,2.22,2.24,2.26,2.28,2.30,2.32,2.34,2.36,2.38];
const timeLabels = ['23','12:00','24','12:00','25','12:00','26','12:00','27','12:00','28','12:00','29','12:00','30','12:00','May','12:00','2','12:00','3','12:00','4','12:00','5','12:00','6','12:00','7','12:00','8'];
const lastPrice = 2.0933;
const laggingOffset = 25;

const svgNS = 'http://www.w3.org/2000/svg';
const svg = document.getElementById('chart');
function xScale(bar){ return 48.3 + bar * 5.0206; }
function yScale(p){ return 407.5 + (2.24 - p) * 2750; }
function node(tag, attrs){
  const e = document.createElementNS(svgNS, tag);
  for (const k in attrs) e.setAttribute(k, attrs[k]);
  return e;
}
function interp(bars, prices, b){
  if (b <= bars[0]) return prices[0];
  for (let j = 1; j < bars.length; j++){
    if (b <= bars[j]){
      const t = (b - bars[j-1]) / (bars[j] - bars[j-1]);
      return prices[j-1] + t * (prices[j] - prices[j-1]);
    }
  }
  return prices[prices.length-1];
}
function pointsFrom(bars, prices){
  return bars.map(function(b, j){ return xScale(b).toFixed(2) + ',' + yScale(prices[j]).toFixed(2); }).join(' ');
}

/* grid */
priceTicks.forEach(function(p){
  const gl = node('line', {x1:0, x2:1860, y1:yScale(p), y2:yScale(p), stroke:'#eeeeee', 'stroke-width':1.1});
  
  
  svg.appendChild(gl);
});
timeLabels.forEach(function(lbl, k){
  const gx = xScale(k * 12);
  const gl = node('line', {x1:gx, x2:gx, y1:0, y2:920, stroke:'#eeeeee', 'stroke-width':1.1});
  
  
  svg.appendChild(gl);
});

/* cloud */
let greenPath = '', redPath = '';
function quad(x0, a0, b0, x1, a1, b1){
  const s = 'M' + x0.toFixed(2) + ' ' + yScale(a0).toFixed(2) + 'L' + x1.toFixed(2) + ' ' + yScale(a1).toFixed(2) + 'L' + x1.toFixed(2) + ' ' + yScale(b1).toFixed(2) + 'L' + x0.toFixed(2) + ' ' + yScale(b0).toFixed(2) + 'Z';
  if ((a0 + a1) >= (b0 + b1)) greenPath += s; else redPath += s;
}
for (let b = 6; b < 350; b++){
  const a0 = interp(spanABars, spanAPrices, b), a1 = interp(spanABars, spanAPrices, b + 1);
  const b0 = interp(spanBBars, spanBPrices, b), b1 = interp(spanBBars, spanBPrices, b + 1);
  const x0 = xScale(b), x1 = xScale(b + 1);
  if ((a0 - b0) * (a1 - b1) < 0){
    const t = (a0 - b0) / ((a0 - b0) - (a1 - b1));
    const xm = x0 + t * (x1 - x0), pm = a0 + t * (a1 - a0);
    quad(x0, a0, b0, xm, pm, pm);
    quad(xm, pm, pm, x1, a1, b1);
  } else {
    quad(x0, a0, b0, x1, a1, b1);
  }
}
const greenCloud = node('path', {d:greenPath, fill:'rgba(67,160,71,0.13)'});


svg.appendChild(greenCloud);
const redCloud = node('path', {d:redPath, fill:'rgba(244,67,54,0.13)'});


svg.appendChild(redCloud);

/* dotted last-price line */
const lastLine = node('line', {x1:0, x2:1860, y1:yScale(lastPrice), y2:yScale(lastPrice), stroke:'#f7253f', 'stroke-width':1, 'stroke-dasharray':'1.4 2'});


svg.appendChild(lastLine);

/* ichimoku lines */
const lineStyle = {fill:'none', 'stroke-width':1.25, 'stroke-linejoin':'round'};
const spanALine = node('polyline', Object.assign({points:pointsFrom(spanABars, spanAPrices), stroke:'#a5d6a7'}, lineStyle));


svg.appendChild(spanALine);
const spanBLine = node('polyline', Object.assign({points:pointsFrom(spanBBars, spanBPrices), stroke:'#ef9a9a'}, lineStyle));


svg.appendChild(spanBLine);
const laggingPoints = closes.map(function(c, j){ return xScale(firstBar + j - laggingOffset).toFixed(2) + ',' + yScale(c).toFixed(2); }).filter(function(s){ return parseFloat(s) > -12; }).join(' ');
const laggingLine = node('polyline', Object.assign({points:laggingPoints, stroke:'#43a047'}, lineStyle));


svg.appendChild(laggingLine);
const kijunLine = node('polyline', Object.assign({points:pointsFrom(kijunBars, kijunPrices), stroke:'#b71c1c'}, lineStyle));


svg.appendChild(kijunLine);
const tenkanLine = node('polyline', Object.assign({points:pointsFrom(tenkanBars, tenkanPrices), stroke:'#2962ff'}, lineStyle));


svg.appendChild(tenkanLine);

/* candles */
opens.forEach(function(o, j){
  const c = closes[j];
  const col = c >= o ? '#058f70' : '#f7253f';
  const cx = xScale(firstBar + j);
  const wick = node('line', {x1:cx, x2:cx, y1:yScale(highs[j]), y2:yScale(lows[j]), stroke:col, 'stroke-width':1.2});
  
  
  svg.appendChild(wick);
  const top = Math.min(yScale(o), yScale(c));
  const h = Math.max(Math.abs(yScale(o) - yScale(c)), 1.2);
  const body = node('rect', {x:cx - 1.8, y:top, width:3.6, height:h, fill:col});
  
  
  svg.appendChild(body);
});

/* circle markers */
markerBars.forEach(function(b, j){
  const m = node('circle', {cx:xScale(b), cy:yScale(markerPrices[j]), r:3.4, fill:'#fff', stroke:'#2962ff', 'stroke-width':1.5});
  
  
  svg.appendChild(m);
});

/* axis labels */
priceTicks.forEach(function(p){
  const t = node('text', {x:1870, y:yScale(p) + 4.7, 'font-family':'"Liberation Sans", sans-serif', 'font-size':13.2, 'letter-spacing':'.25', fill:'#131722'});
  t.textContent = p.toFixed(4);
  
  
  svg.appendChild(t);
});
timeLabels.forEach(function(lbl, k){
  const t = node('text', {x:xScale(k * 12), y:938.5, 'text-anchor':'middle', 'font-family':'"Liberation Sans", sans-serif', 'font-size':13.2, fill:'#2a2e39', 'font-weight':lbl === 'May' ? 700 : 400});
  t.textContent = lbl;
  
  
  svg.appendChild(t);
});
</script>
</body>
</html>
